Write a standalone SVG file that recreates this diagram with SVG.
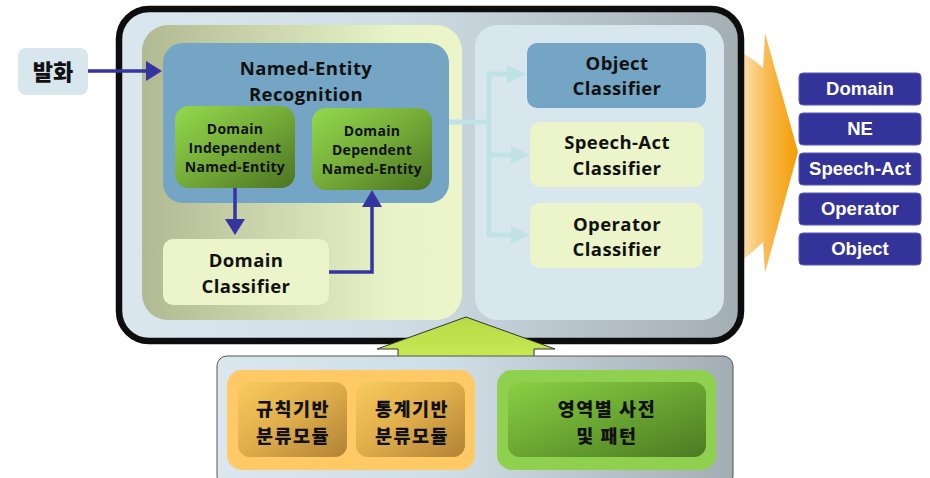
<svg xmlns="http://www.w3.org/2000/svg" width="930" height="478" viewBox="0 0 930 478">
<defs>
<linearGradient id="gOuter" x1="0" y1="0" x2="1" y2="0">
<stop offset="0" stop-color="#dae7ef"/><stop offset="0.45" stop-color="#cfdde5"/><stop offset="1" stop-color="#a3adb4"/>
</linearGradient>
<linearGradient id="gLeft" x1="0" y1="0" x2="1" y2="0">
<stop offset="0" stop-color="#b1b992"/><stop offset="0.8" stop-color="#e9f4c8"/><stop offset="1" stop-color="#ebf5c9"/>
</linearGradient>
<linearGradient id="gGreen" x1="0" y1="0" x2="1" y2="1">
<stop offset="0" stop-color="#92d94c"/><stop offset="0.5" stop-color="#74ab38"/><stop offset="1" stop-color="#4b7322"/>
</linearGradient>
<linearGradient id="gOrangeBox" x1="0" y1="0" x2="1" y2="1">
<stop offset="0" stop-color="#f9cb5d"/><stop offset="0.5" stop-color="#deac4a"/><stop offset="1" stop-color="#b08235"/>
</linearGradient>
<linearGradient id="gGreen2" x1="0" y1="0" x2="1" y2="1">
<stop offset="0" stop-color="#8ad044"/><stop offset="0.5" stop-color="#6aa632"/><stop offset="1" stop-color="#4c7a22"/>
</linearGradient>
<linearGradient id="gBigArrow" x1="0" y1="0" x2="1" y2="0">
<stop offset="0" stop-color="#fde9c6"/><stop offset="0.55" stop-color="#f8b84a"/><stop offset="1" stop-color="#f59c00"/>
</linearGradient>
<linearGradient id="gUp" x1="0" y1="0" x2="0" y2="1">
<stop offset="0" stop-color="#b4dc46"/><stop offset="1" stop-color="#c8e852"/>
</linearGradient>
<style>
.t{font-family:"Open Sans","Noto Sans",sans-serif;font-weight:bold;fill:#111;text-anchor:middle}
.big{font-size:18.5px;letter-spacing:0.4px}
.sm{font-size:14px;letter-spacing:0.3px}
.k{font-family:"Noto Sans CJK KR","Noto Sans",sans-serif;font-weight:900;fill:#111;text-anchor:middle}
.kb{font-size:18.5px;letter-spacing:1.5px}
.o{font-family:"Liberation Sans",Arial,sans-serif;font-weight:bold;fill:#fff;text-anchor:middle;font-size:18.5px}
.ob{fill:#333399;stroke:#5a5ab8;stroke-width:1}
.blue{stroke:#3535a0;stroke-width:3.5;fill:none}
.cy{stroke:#bfe2e6;stroke-width:5;fill:none}
.cyh{fill:#bfe2e6}
.lite{fill:#ebf5c9}
.steel{fill:#74a5c4}
</style>
</defs>

<!-- big orange output arrow (behind main box) -->
<path id="bigArrow" d="M735,50 Q752,57 763,68 L765,33 L798,152 L765,273 L763,242 Q752,253 735,266 Z" fill="url(#gBigArrow)"/>

<!-- main box -->
<g id="main">
<rect x="119" y="9" width="622" height="332" rx="30" fill="url(#gOuter)" stroke="#0d0d0d" stroke-width="6.5"/>
<rect x="142" y="25" width="320" height="295" rx="26" fill="url(#gLeft)"/>
<rect x="475" y="25" width="249" height="295" rx="22" fill="#d8e6ee"/>
</g>

<g id="input">
<rect x="18" y="48" width="70" height="47" rx="8" fill="#d8e6ee"/>
<text class="k" x="53" y="80" font-size="22">발화</text>
</g>

<g id="ner">
<rect class="steel" x="163" y="43" width="286" height="160" rx="20"/>
<text class="t big" x="306" y="75">Named-Entity</text>
<text class="t big" x="306" y="100.5">Recognition</text>
</g>

<g id="di">
<rect x="175" y="106" width="120" height="82" rx="14" fill="url(#gGreen)"/>
<text class="t sm" x="235" y="134">Domain</text>
<text class="t sm" x="235" y="153">Independent</text>
<text class="t sm" x="235" y="172">Named-Entity</text>
</g>

<g id="dd">
<rect x="312" y="108" width="120" height="82" rx="14" fill="url(#gGreen)"/>
<text class="t sm" x="372" y="136">Domain</text>
<text class="t sm" x="372" y="155">Dependent</text>
<text class="t sm" x="372" y="174">Named-Entity</text>
</g>

<g id="domainClassifier">
<rect class="lite" x="163" y="239" width="166" height="66" rx="10"/>
<text class="t big" x="246" y="267.25">Domain</text>
<text class="t big" x="246" y="292.75">Classifier</text>
</g>

<g id="objectClassifier">
<rect class="steel" x="527" y="43" width="179" height="65" rx="10"/>
<text class="t big" x="617" y="69.75">Object</text>
<text class="t big" x="617" y="95.25">Classifier</text>
</g>

<g id="speechActClassifier">
<rect class="lite" x="530" y="122" width="174" height="65" rx="10"/>
<text class="t big" x="617" y="149.25">Speech-Act</text>
<text class="t big" x="617" y="174.75">Classifier</text>
</g>

<g id="operatorClassifier">
<rect class="lite" x="530" y="203" width="173" height="65" rx="10"/>
<text class="t big" x="617" y="230.75">Operator</text>
<text class="t big" x="617" y="256.25">Classifier</text>
</g>

<g id="connectors">
<path class="blue" d="M88,71 H150"/>
<path d="M146,61 L162,71 L146,81 Z" fill="#3535a0"/>
<path class="blue" d="M235,188 V222"/>
<path d="M225,219 L235,235 L245,219 Z" fill="#3535a0"/>
<path class="blue" d="M329,272 H372 V205"/>
<path d="M362,207 L372,190 L382,207 Z" fill="#3535a0"/>
<path class="cy" d="M449,122 H489 M489,74 V235 M487,74 H509 M487,155 H513 M487,235 H513"/>
<path class="cyh" d="M507,65 L527,74 L507,83 Z M511,146 L530,155 L511,164 Z M511,226 L530,235 L511,244 Z"/>
<path id="upArrow" d="M466,317 L555,349 L534,349 L534,357 L398,357 L398,349 L377,349 Z" fill="url(#gUp)" stroke="#333" stroke-width="1"/>
</g>

<g id="outputs">
<rect class="ob" x="799" y="73" width="122" height="32" rx="4"/>
<text class="o" x="860" y="95">Domain</text>
<rect class="ob" x="799" y="113" width="122" height="32" rx="4"/>
<text class="o" x="860" y="135">NE</text>
<rect class="ob" x="799" y="153" width="122" height="32" rx="4"/>
<text class="o" x="860" y="175">Speech-Act</text>
<rect class="ob" x="799" y="193" width="122" height="32" rx="4"/>
<text class="o" x="860" y="215">Operator</text>
<rect class="ob" x="799" y="233" width="122" height="32" rx="4"/>
<text class="o" x="860" y="255">Object</text>
</g>

<g id="bottom">
<rect x="217" y="356" width="516" height="130" rx="10" fill="url(#gOuter)" stroke="#555" stroke-width="1"/>
<rect x="227" y="370" width="248" height="100" rx="15" fill="#ffc966"/>
<rect x="497" y="370" width="219" height="100" rx="15" fill="#8fd14f"/>
</g>

<g id="ruleModule">
<rect x="238" y="382" width="109" height="75" rx="12" fill="url(#gOrangeBox)"/>
<text class="k kb" x="293" y="416">규칙기반</text>
<text class="k kb" x="293" y="443">분류모듈</text>
</g>

<g id="statModule">
<rect x="356" y="382" width="109" height="75" rx="12" fill="url(#gOrangeBox)"/>
<text class="k kb" x="412" y="416">통계기반</text>
<text class="k kb" x="412" y="443">분류모듈</text>
</g>

<g id="dictionary">
<rect x="508" y="382" width="198" height="75" rx="12" fill="url(#gGreen2)"/>
<text class="k kb" x="607" y="416">영역별 사전</text>
<text class="k kb" x="607" y="443">및 패턴</text>
</g>
</svg>
